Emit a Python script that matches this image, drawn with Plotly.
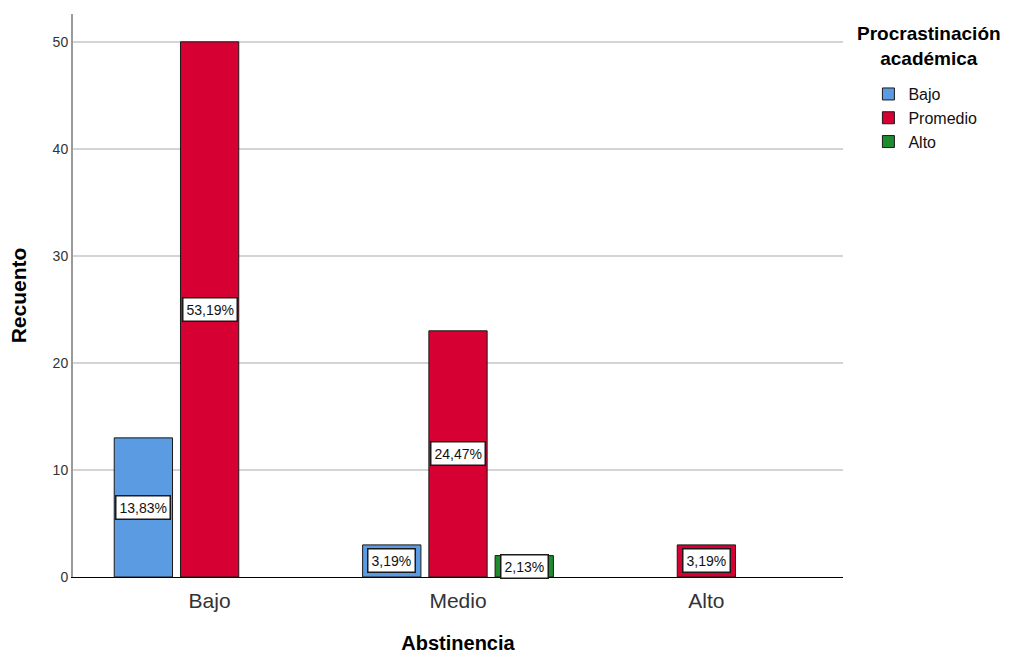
import plotly.graph_objects as go

categories = ["Bajo", "Medio", "Alto"]
series_names = ["Bajo", "Promedio", "Alto"]
values_bajo = [13, 3, None]
values_promedio = [50, 23, 3]
values_alto = [None, 2, None]
total = 94
colors = ["#5A9BE2", "#D70032", "#1E8C2E"]
y_ticks = [0, 10, 20, 30, 40, 50]

series = [values_bajo, values_promedio, values_alto]

FONT = "Liberation Sans, Arial"

fig = go.Figure()
for name, vals, col in zip(series_names, series, colors):
    fig.add_trace(go.Bar(
        x=list(range(len(categories))), y=vals, name=name,
        marker=dict(color=col, line=dict(color="#1A1A1A", width=1)),
    ))

bargap = 0.2
bargroupgap = 0.12
slot = (1 - bargap) / 3
annotations = []
for si, vals in enumerate(series):
    off = (si - 1) * slot
    for ci, v in enumerate(vals):
        if v:
            pct = f"{v / total * 100:.2f}%".replace(".", ",")
            annotations.append(dict(
                x=ci + off, y=v / 2, xref="x", yref="y", text=pct, showarrow=False,
                bgcolor="#FFFFFF", bordercolor="#1A1A1A", borderwidth=1.5, borderpad=3,
                font=dict(family=FONT, size=14, color="#111111"),
            ))

annotations.append(dict(
    x=1.112, y=0.9876, xref="paper", yref="paper", xanchor="center", yanchor="top",
    text="<b>Procrastinación<br>académica</b>", showarrow=False, align="center",
    font=dict(family=FONT, size=19, color="#000000"),
))

fig.update_layout(
    annotations=annotations,
    barmode="group", bargap=bargap, bargroupgap=bargroupgap,
    width=1020, height=654,
    margin=dict(l=73, r=177, t=14, b=77),
    paper_bgcolor="#FFFFFF", plot_bgcolor="#FFFFFF",
    font=dict(family=FONT, color="#333333"),
    xaxis=dict(
        tickmode="array", tickvals=list(range(len(categories))), ticktext=categories,
        range=[-0.55, 2.55], showgrid=False, showline=True, linecolor="#000000", linewidth=1,
        ticks="", tickfont=dict(size=21, color="#333333"), ticklabelstandoff=5,
        automargin=False,
        title=dict(text="<b>Abstinencia</b>", font=dict(size=20, color="#000000"), standoff=26),
    ),
    yaxis=dict(
        range=[0, 52.6], tickvals=y_ticks, showgrid=True, gridcolor="#D4D4D4", gridwidth=1.5,
        showline=True, linecolor="#9A9A9A", linewidth=2, ticks="", zeroline=False,
        tickfont=dict(size=14, color="#333333"), automargin=False,
        title=dict(text="<b>Recuento</b>", font=dict(size=21, color="#000000"), standoff=20),
    ),
    legend=dict(
        x=1.033, y=0.888, xanchor="left", yanchor="top",
        font=dict(family=FONT, size=16, color="#111111"),
        tracegroupgap=0, itemwidth=30, bgcolor="rgba(0,0,0,0)",
    ),
)

fig.write_html("out.html", config={"displayModeBar": False},
               post_script="document.body.style.margin='0';")
